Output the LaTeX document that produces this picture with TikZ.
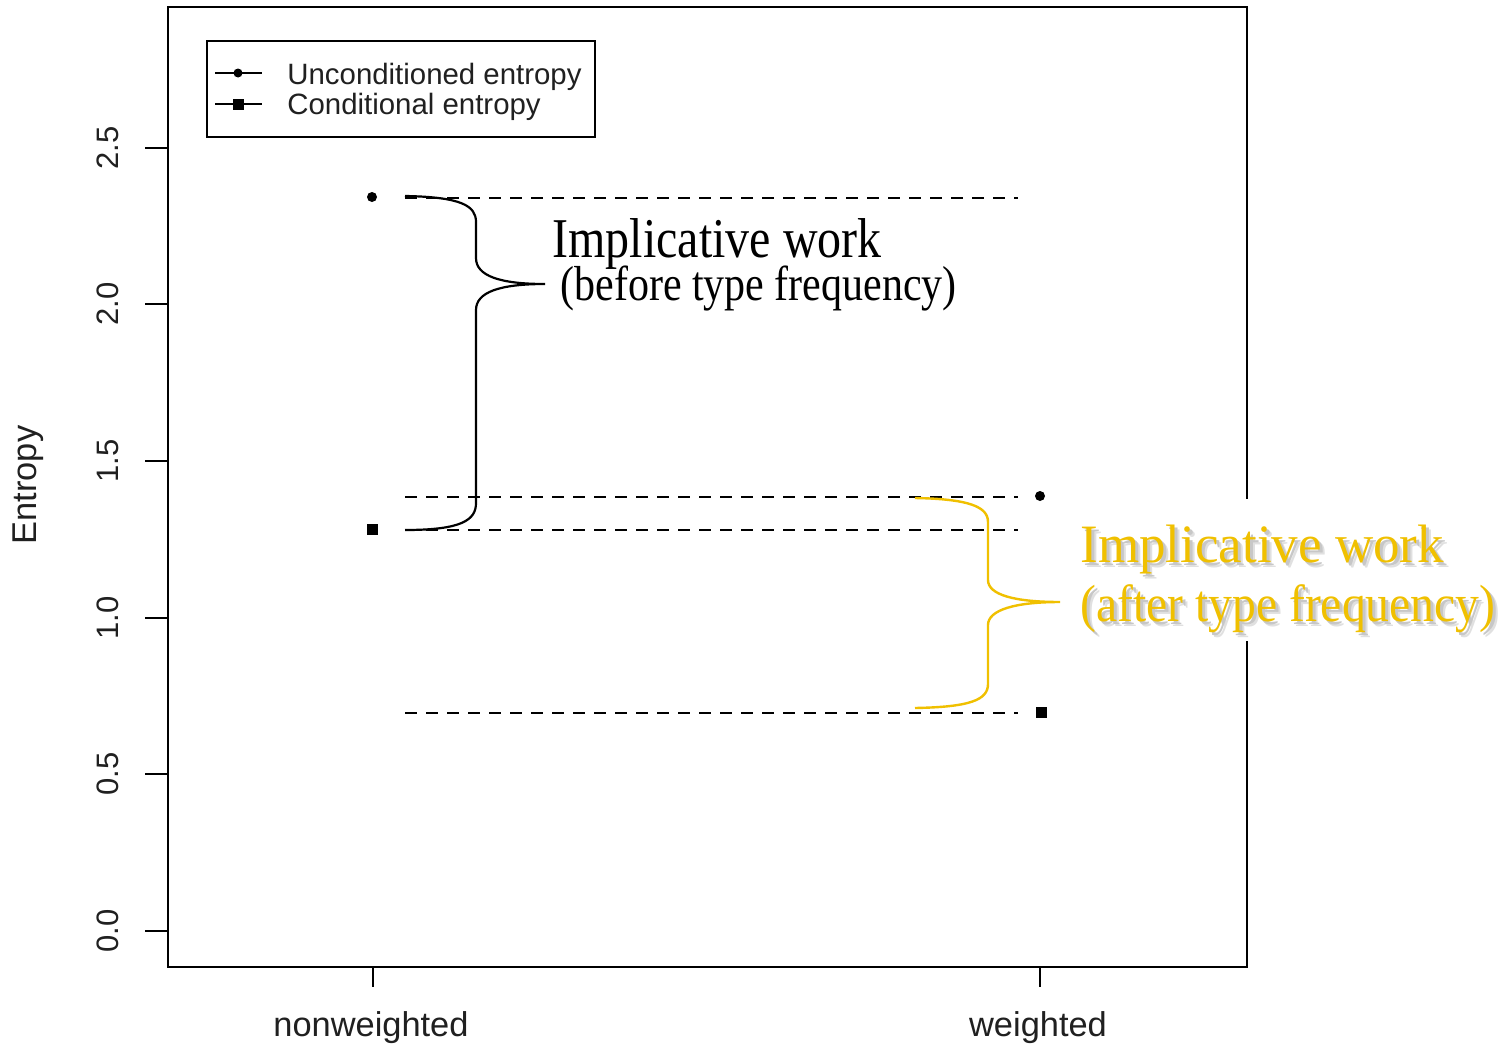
\documentclass[tikz,border=0pt]{standalone}
\usepackage{fontspec}
\setmainfont{Liberation Serif}
\newfontfamily\arialf{Liberation Sans}
\definecolor{gold}{HTML}{F0C000}
\definecolor{axtext}{HTML}{202020}
\begin{document}
\begin{tikzpicture}[x=0.5pt,y=-0.5pt,
  frame/.style={draw=black,line width=1.3pt},
  tickln/.style={draw=black,line width=1.2pt},
  ticklab/.style={font=\arialf\fontsize{15.5}{18}\selectfont,text=axtext,rotate=90,inner sep=0pt},
  axlab/.style={font=\arialf\fontsize{17.2}{20}\selectfont,text=axtext,inner sep=0pt},
  leglab/.style={font=\arialf\fontsize{14.7}{17}\selectfont,text=axtext,inner sep=0pt,anchor=west},
  dotm/.style={circle,fill=black,minimum size=5pt,inner sep=0pt},
  sqm/.style={rectangle,fill=black,minimum size=5.5pt,inner sep=0pt},
  dashln/.style={draw=black,line width=1.1pt,dash pattern=on 6pt off 4.5pt},
  bracek/.style={draw=black,line width=1.1pt},
  bracey/.style={draw=gold,line width=1.2pt},
  txtbase/.style={inner sep=0pt,anchor=base west,transform shape},
  blackA/.style={txtbase,font=\fontsize{24}{28}\selectfont,yscale=1.17},
  blackB/.style={txtbase,font=\fontsize{21}{25}\selectfont,yscale=1.17},
  goldA/.style={txtbase,font=\fontsize{26.5}{30}\selectfont,yscale=1.02},
  goldB/.style={txtbase,font=\fontsize{23.8}{27}\selectfont,yscale=1.1}
]
\useasboundingbox (0,0) rectangle (1505,1049);
\fill[white] (0,0) rectangle (1505,1049);

% plot frame
\draw[frame] (168,7) rectangle (1247,967);

% y axis ticks and labels
\foreach \v/\yy [count=\i] in {0.0/931,0.5/774,1.0/618,1.5/461,2.0/304,2.5/148}{
  \coordinate (ya\i) at (145,\yy);
  \coordinate (yb\i) at (168,\yy);
  \draw[tickln] (ya\i) -- (yb\i);
  \node[ticklab] (yl\i) at (108,\yy) {\v};
}
\node[axlab,rotate=90] (ylab) at (28,485) {Entropy};

% x axis ticks and labels
\coordinate (xa1) at (373,967); \coordinate (xb1) at (373,987);
\coordinate (xa2) at (1040,967); \coordinate (xb2) at (1040,987);
\draw[tickln] (xa1) -- (xb1);
\draw[tickln] (xa2) -- (xb2);
\node[axlab] (xl1) at (371,1028) {nonweighted};
\node[axlab] (xl2) at (1038,1028) {weighted};

% legend
\draw[line width=1.2pt] (207,41) rectangle (595,137);
\coordinate (la1) at (215,73); \coordinate (lb1) at (262,73);
\coordinate (la2) at (215,104); \coordinate (lb2) at (262,104);
\draw[line width=1.2pt] (la1) -- (lb1);
\draw[line width=1.2pt] (la2) -- (lb2);
\node[dotm,minimum size=4.5pt] (lm1) at (238,73) {};
\node[sqm,minimum size=5.5pt] (lm2) at (238,104) {};
\node[leglab] (lt1) at (287,77) {Unconditioned entropy};
\node[leglab] (lt2) at (287,107) {Conditional entropy};

% data points
\node[dotm] (nu) at (372,197) {};
\node[sqm] (nc) at (372,529) {};
\node[dotm] (wu) at (1040,496) {};
\node[sqm] (wc) at (1041,712) {};

% dashed reference lines
\coordinate (d1a) at (405,198); \coordinate (d1b) at (1018,198);
\coordinate (d2a) at (405,497); \coordinate (d2b) at (1018,497);
\coordinate (d3a) at (405,530); \coordinate (d3b) at (1018,530);
\coordinate (d4a) at (405,713); \coordinate (d4b) at (1018,713);
\draw[dashln] (d1a) -- (d1b);
\draw[dashln] (d2a) -- (d2b);
\draw[dashln] (d3a) -- (d3b);
\draw[dashln] (d4a) -- (d4b);

% black brace
\coordinate (kb1) at (405,196);
\coordinate (kb2) at (476,222);
\coordinate (kb3) at (476,258);
\coordinate (ktip) at (545,284);
\coordinate (kb4) at (476,310);
\coordinate (kb5) at (476,503);
\coordinate (kb6) at (405,530);
\draw[bracek] (kb1) .. controls (462,197) and (476,206) .. (kb2) -- (kb3)
  .. controls (476,276) and (500,284) .. (ktip)
  .. controls (500,284) and (476,292) .. (kb4) -- (kb5)
  .. controls (476,520) and (462,530) .. (kb6);

\node[blackA] (bt1) at (552,257) {Implicative work};
\node[blackB] (bt2) at (560,300) {(before type frequency)};

% white patch behind gold text (breaks the frame)
\fill[white] (1070,499) rectangle (1505,641);

% gold brace
\coordinate (gb1) at (915,498);
\coordinate (gb2) at (988,522);
\coordinate (gb3) at (988,580);
\coordinate (gtip) at (1060,602);
\coordinate (gb4) at (988,625);
\coordinate (gb5) at (988,684);
\coordinate (gb6) at (915,708);
\draw[bracey] (gb1) .. controls (970,499) and (988,507) .. (gb2) -- (gb3)
  .. controls (988,595) and (1015,602) .. (gtip)
  .. controls (1015,602) and (988,610) .. (gb4) -- (gb5)
  .. controls (988,700) and (970,707) .. (gb6);

% shadows
\node[goldA,text=black!12] (gs1a) at (1085,567) {Implicative work};
\node[goldB,text=black!12] (gs2a) at (1085,626) {(after type frequency)};
\node[goldA,text=black!22] (gs1) at (1083,565) {Implicative work};
\node[goldB,text=black!22] (gs2) at (1083,624) {(after type frequency)};
% gold text
\node[goldA,text=gold] (gt1) at (1080,562) {Implicative work};
\node[goldB,text=gold] (gt2) at (1080,621) {(after type frequency)};
\end{tikzpicture}
\end{document}
